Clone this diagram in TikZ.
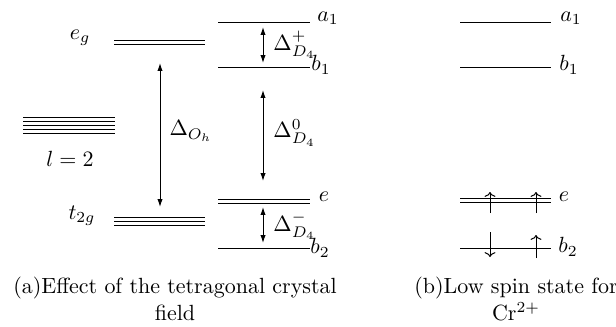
\documentclass[tikz,border=0pt]{standalone}
\usetikzlibrary{arrows.meta}
\begin{document}
\begin{tikzpicture}[x=0.455pt,y=-0.455pt,
  lvl/.style={line width=0.45pt},
  gap/.style={{Latex[length=3.6pt,width=2.4pt]}-{Latex[length=3.6pt,width=2.4pt]}, line width=0.45pt},
  spin/.style={-{Computer Modern Rightarrow[length=2.2pt,width=5pt]}, line width=0.45pt},
  lab/.style={inner sep=0pt}]
\useasboundingbox (0,0) rectangle (616,326);
% l = 2
\foreach \y in {117,121,125,129,133} \draw[lvl] (23,\y) -- (115,\y);
\node[lab] (l2) at (70,159) {$l=2$};
% Oh
\foreach \y in {40,44} \draw[lvl] (114,\y) -- (205,\y);
\foreach \y in {217,221,225} \draw[lvl] (114,\y) -- (205,\y);
\node[lab] (eg) at (80,38) {$e_g$};
\node[lab] (t2g) at (82,216) {$t_{2g}$};
\coordinate (oht) at (160,63);
\coordinate (ohb) at (160,207);
\draw[gap] (oht) -- (ohb);
\node[lab] (doh) at (191,131) {$\Delta_{O_h}$};
% D4 left
\draw[lvl] (218,22) -- (310,22);
\draw[lvl] (218,67) -- (310,67);
\draw[lvl] (218,199) -- (310,199);
\draw[lvl] (218,203) -- (310,203);
\draw[lvl] (218,248) -- (310,248);
\node[lab] (a1l) at (328,18) {$a_1$};
\node[lab] (b1l) at (321,65) {$b_1$};
\node[lab] (el) at (324,197) {$e$};
\node[lab] (b2l) at (320,248) {$b_2$};
\coordinate (p1) at (263,27); \coordinate (p2) at (263,63);
\coordinate (q1) at (263,90); \coordinate (q2) at (263,181);
\coordinate (r1) at (263,207); \coordinate (r2) at (263,243);
\draw[gap] (p1) -- (p2);
\draw[gap] (q1) -- (q2);
\draw[gap] (r1) -- (r2);
\node[lab,anchor=west] (dp) at (273,45) {$\Delta^+_{D_4}$};
\node[lab,anchor=west] (d0) at (273,133) {$\Delta^0_{D_4}$};
\node[lab,anchor=west] (dm) at (273,226) {$\Delta^-_{D_4}$};
% D4 right
\draw[lvl] (460,22) -- (551,22);
\draw[lvl] (460,67) -- (551,67);
\draw[lvl] (460,198) -- (551,198);
\draw[lvl] (460,202) -- (551,202);
\draw[lvl] (460,248) -- (551,248);
\node[lab] (a1r) at (571,18) {$a_1$};
\node[lab] (b1r) at (569,65) {$b_1$};
\node[lab] (er) at (564,197) {$e$};
\node[lab] (b2r) at (568,247) {$b_2$};
\coordinate (s1a) at (490,213); \coordinate (s1b) at (490,192);
\coordinate (s2a) at (536,213); \coordinate (s2b) at (536,192);
\coordinate (s3a) at (490,232); \coordinate (s3b) at (490,257);
\coordinate (s4a) at (536,258); \coordinate (s4b) at (536,235);
\draw[spin] (s1a) -- (s1b);
\draw[spin] (s2a) -- (s2b);
\draw[spin] (s3a) -- (s3b);
\draw[spin] (s4a) -- (s4b);
% captions
\node[align=center, inner sep=0pt] (capa) at (175,299) {(a)Effect of the tetragonal crystal\\field};
\node[align=center, inner sep=0pt] (capb) at (516,299) {(b)Low spin state for\\Cr$^{2+}$};
\end{tikzpicture}
\end{document}
